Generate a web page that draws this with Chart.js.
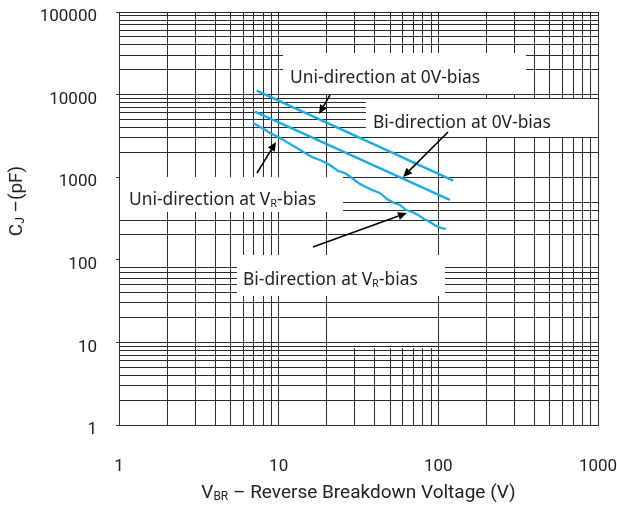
<!DOCTYPE html>
<html><head><meta charset="utf-8">
<script src="https://cdn.jsdelivr.net/npm/chart.js@4.4.1/dist/chart.umd.min.js"></script>
<style>html,body{margin:0;padding:0;background:#fff}#wrap{width:617px;height:523px}</style>
</head><body><div id="wrap"><canvas id="c" width="617" height="523"></canvas></div>
<script>
// ---- data ----
const xTickValues = [1,2,3,4,5,6,7,8,9,10,20,30,40,50,60,70,80,90,100,200,300,400,500,600,700,800,900,1000];
const yTickValues = [1,2,3,4,5,6,7,8,9,10,20,30,40,50,60,70,80,90,100,200,300,400,500,600,700,800,900,
  1000,2000,3000,4000,5000,6000,7000,8000,9000,10000,20000,30000,40000,50000,60000,70000,80000,90000,100000];
const xMajorLabels = [1,10,100,1000];
const yMajorLabels = [1,10,100,1000,10000,100000];

const uni0V_V = [7.28, 124];
const uni0V_C = [11150, 910];
const bi0V_V = [7.1, 118];
const bi0V_C = [6210, 530];
const vrBias_V = [6.91,7.86,8.83,10.2,11.78,13.02,14.62,16.17,18.15,20.97,23.53,26.03,28.8,32.3,35.2,38.4,43.1,47.7,52.8,57.5,62.7,68.4,74.6,81.3,88.7,96.7,103.9,111.7];
const vrBias_C = [4531,3941,3429,2983,2523,2257,1963,1756,1615,1405,1189,1124,978,827,761,700,644,545,487,461,401,379,349,312,287,257,243,236];

// annotation labels: [x1,x2,y1,y2] box in data units, text anchor (left x, middle y)
const labelTexts = ['Uni-direction at 0V-bias','Bi-direction at 0V-bias','Uni-direction at V|R|-bias','Bi-direction at V|R|-bias'];
const labelBoxes = [[10.49,354,31880,10170],[34.7,1000,8845,3067],[1,25.3,1006,379],[5.40,110,114.3,36.5]];
const labelAnchors = [[11.78,15890],[38.97,4531],[1.155,530],[5.98,56.9]];
// arrows: [fromV, fromC, tipV, tipC]
const arrows = [[20.97,9890,17.89,5824],[115,3525,60.1,1006],[7.32,1124,9.62,2669],[16.4,142.9,63.6,368.6]];
// places where the printed grid has no lines: [x1,x2,y1,y2] in data units
const vGridGaps = [[25,97,8.5,10000]];
const hGridGaps = [[1,1000,560,950],[1,1000,83,120]];

const pts = (xs, ys) => xs.map((x, i) => ({x, y: ys[i]}));
const BLUE = '#19ADE8';
const GRID = '#2b2b2b';

function drawRich(ctx, x, y, text, size, family) {
  const parts = text.split('|');
  let cx = x;
  parts.forEach((p, i) => {
    const sub = i % 2 === 1;
    ctx.font = (sub ? Math.round(size * 0.62) : size) + 'px ' + family;
    ctx.fillText(p, cx, sub ? y + size * 0.22 : y);
    cx += ctx.measureText(p).width;
  });
  return cx - x;
}
function measureRich(ctx, text, size, family) {
  const parts = text.split('|');
  let w = 0;
  parts.forEach((p, i) => {
    ctx.font = (i % 2 ? Math.round(size * 0.62) : size) + 'px ' + family;
    w += ctx.measureText(p).width;
  });
  return w;
}
const align = p => Math.round(p - 0.5) + 0.5;

function clipOut(ctx, a, gaps, x, y) {
  ctx.beginPath();
  ctx.rect(a.left - 2, a.top - 2, a.right - a.left + 4, a.bottom - a.top + 4);
  gaps.forEach(g => {
    const x1 = x.getPixelForValue(g[0]), x2 = x.getPixelForValue(g[1]);
    const y1 = y.getPixelForValue(g[3]), y2 = y.getPixelForValue(g[2]);
    ctx.rect(x1, y1, x2 - x1, y2 - y1);
  });
  ctx.clip('evenodd');
}

const overlay = {
  id: 'overlay',
  beforeDatasetsDraw(chart) {
    const {ctx, chartArea: a, scales: {x, y}} = chart;
    ctx.save();
    ctx.strokeStyle = GRID;
    ctx.lineWidth = 1;
    ctx.save();
    clipOut(ctx, a, vGridGaps, x, y);
    ctx.beginPath();
    xTickValues.forEach(v => {
      const px = align(x.getPixelForValue(v));
      ctx.moveTo(px, a.top); ctx.lineTo(px, a.bottom);
    });
    ctx.stroke();
    ctx.restore();
    ctx.save();
    clipOut(ctx, a, hGridGaps, x, y);
    ctx.beginPath();
    yTickValues.forEach(v => {
      const py = align(y.getPixelForValue(v));
      ctx.moveTo(a.left, py); ctx.lineTo(a.right, py);
    });
    ctx.stroke();
    ctx.restore();
    ctx.fillStyle = '#fff';
    labelBoxes.forEach(b => {
      const x1 = x.getPixelForValue(b[0]), x2 = x.getPixelForValue(b[1]);
      const y1 = y.getPixelForValue(b[2]), y2 = y.getPixelForValue(b[3]);
      ctx.fillRect(x1 + 1, y1, x2 - x1 - 1, y2 - y1);
    });
    ctx.fillStyle = '#222';
    ctx.textBaseline = 'middle';
    ctx.textAlign = 'left';
    labelTexts.forEach((t, i) => {
      drawRich(ctx, x.getPixelForValue(labelAnchors[i][0]), y.getPixelForValue(labelAnchors[i][1]), t, 17.4, '"Noto Sans", sans-serif');
    });
    ctx.restore();
  },
  afterDatasetsDraw(chart) {
    const {ctx, scales: {x, y}} = chart;
    ctx.save();
    ctx.strokeStyle = '#000';
    ctx.fillStyle = '#000';
    ctx.lineWidth = 1.6;
    arrows.forEach(a => {
      const x0 = x.getPixelForValue(a[0]), y0 = y.getPixelForValue(a[1]);
      const x1 = x.getPixelForValue(a[2]), y1 = y.getPixelForValue(a[3]);
      const ang = Math.atan2(y1 - y0, x1 - x0);
      const hl = 9, hw = 4;
      const bx = x1 - hl * Math.cos(ang), by = y1 - hl * Math.sin(ang);
      ctx.beginPath(); ctx.moveTo(x0, y0); ctx.lineTo(bx, by); ctx.stroke();
      ctx.beginPath();
      ctx.moveTo(x1, y1);
      ctx.lineTo(bx + hw * Math.sin(ang), by - hw * Math.cos(ang));
      ctx.lineTo(bx - hw * Math.sin(ang), by + hw * Math.cos(ang));
      ctx.closePath(); ctx.fill();
    });
    ctx.restore();
  },
  afterDraw(chart) {
    const {ctx, chartArea} = chart;
    ctx.save();
    ctx.fillStyle = '#222';
    ctx.textBaseline = 'middle';
    ctx.textAlign = 'left';
    const fam = 'Roboto, sans-serif';
    const xt = 'V|BR| – Reverse Breakdown Voltage (V)';
    const w = measureRich(ctx, xt, 19, fam);
    drawRich(ctx, (chartArea.left + chartArea.right) / 2 - w / 2, 493, xt, 19, fam);
    const yt = 'C|J| –(pF)';
    const w2 = measureRich(ctx, yt, 19, fam);
    ctx.translate(17, 201);
    ctx.rotate(-Math.PI / 2);
    drawRich(ctx, -w2 / 2, 0, yt, 19, fam);
    ctx.restore();
  }
};

const isMajor = (v, list) => list.includes(v);

new Chart(document.getElementById('c'), {
  type: 'line',
  data: {
    datasets: [
      {label: 'Uni-direction at 0V-bias', data: pts(uni0V_V, uni0V_C), borderColor: BLUE, borderWidth: 2.5, pointRadius: 0, tension: 0},
      {label: 'Bi-direction at 0V-bias', data: pts(bi0V_V, bi0V_C), borderColor: BLUE, borderWidth: 2.5, pointRadius: 0, tension: 0},
      {label: 'V_R-bias', data: pts(vrBias_V, vrBias_C), borderColor: BLUE, borderWidth: 2.2, pointRadius: 0, tension: 0}
    ]
  },
  options: {
    responsive: false,
    animation: false,
    devicePixelRatio: 1,
    layout: {padding: {top: 12, right: 19, left: 0, bottom: 0}},
    plugins: {legend: {display: false}, tooltip: {enabled: false}},
    scales: {
      x: {
        type: 'logarithmic', min: 1, max: 1000,
        afterBuildTicks: s => { s.ticks = xTickValues.map(v => ({value: v, major: isMajor(v, xMajorLabels)})); },
        afterFit: s => { s.height = 98; s.paddingLeft = 0; s.paddingRight = 0; },
        grid: {color: 'rgba(0,0,0,0)', lineWidth: 1, drawTicks: false},
        border: {color: '#2b2b2b', width: 1},
        ticks: {
          autoSkip: false, maxRotation: 0, padding: 32, color: '#222',
          font: {family: 'Roboto', size: 17},
          callback: v => isMajor(v, xMajorLabels) ? String(v) : ''
        }
      },
      y: {
        type: 'logarithmic', min: 1, max: 100000,
        afterBuildTicks: s => { s.ticks = yTickValues.map(v => ({value: v, major: isMajor(v, yMajorLabels)})); },
        afterFit: s => { s.width = 119; s.paddingTop = 0; s.paddingBottom = 0; },
        grid: {color: 'rgba(0,0,0,0)', lineWidth: 1, tickLength: 3,
          tickColor: c => (c.tick && isMajor(c.tick.value, yMajorLabels)) ? '#333' : 'rgba(0,0,0,0)'},
        border: {color: '#2b2b2b', width: 1},
        ticks: {
          autoSkip: false, padding: 19, color: '#222', labelOffset: 5,
          font: {family: 'Roboto', size: 17},
          callback: v => isMajor(v, yMajorLabels) ? String(v) : ''
        }
      }
    }
  },
  plugins: [overlay]
});
</script></body></html>
